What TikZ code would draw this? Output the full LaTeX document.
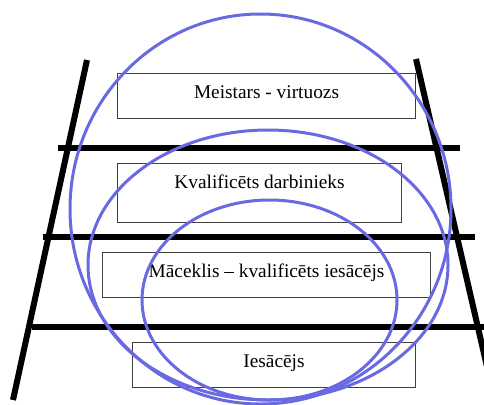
\documentclass[tikz,border=0pt]{standalone}
\usepackage{fontspec}
\setmainfont{Liberation Serif}
\usetikzlibrary{positioning}
\definecolor{ringblue}{RGB}{105,105,225}

\begin{document}
\begin{tikzpicture}[x=0.75pt,y=-0.75pt]

\tikzset{box/.style = {draw=black!75, line width=0.8pt, inner sep=0pt, anchor=north west,
  text height=18.75pt, text depth=15pt, font=\fontsize{14.5}{17}\selectfont}}
\tikzset{rail/.style = {line width=4.5pt}}
\tikzset{rung/.style = {line width=5pt}}
\tikzset{ring/.style = {draw=ringblue, line width=2.25pt}}

\useasboundingbox (0,0) rectangle (484,404);
\clip (0,0) rectangle (484,404);

%rails
\coordinate (lt) at (87,60);
\coordinate (lb) at (13,400);
\coordinate (rt) at (416,59);
\coordinate (rb) at (497,410);
\draw[rail] (lt) -- (lb);
\draw[rail] (rt) -- (rb);
%rungs
\coordinate (r1l) at (58,148);  \coordinate (r1r) at (460,148);
\coordinate (r2l) at (43,237);  \coordinate (r2r) at (475,237);
\coordinate (r3l) at (32,327);  \coordinate (r3r) at (490,327);
\draw[rung] (r1l) -- (r1r);
\draw[rung] (r2l) -- (r2r);
\draw[rung] (r3l) -- (r3r);

%levels
\node[box, minimum width=223.5pt] (master) at (117,73) {Meistars - virtuozs};
\node[box, minimum width=213pt, text depth=25.5pt] (worker) at (117,163) {Kvalificēts darbinieks};
\node[box, minimum width=246pt] (apprentice) at (102,252) {Māceklis – kvalificēts iesācējs};
\node[box, minimum width=212.25pt] (novice) at (132,342) {Iesācējs};

%rings
\draw[ring] (260.5,209) ellipse [x radius=190.5, y radius=195];
\draw[ring] (268,265) ellipse [x radius=180, y radius=135];
\draw[ring] (269.5,300) ellipse [x radius=127.5, y radius=100];

\end{tikzpicture}
\end{document}
